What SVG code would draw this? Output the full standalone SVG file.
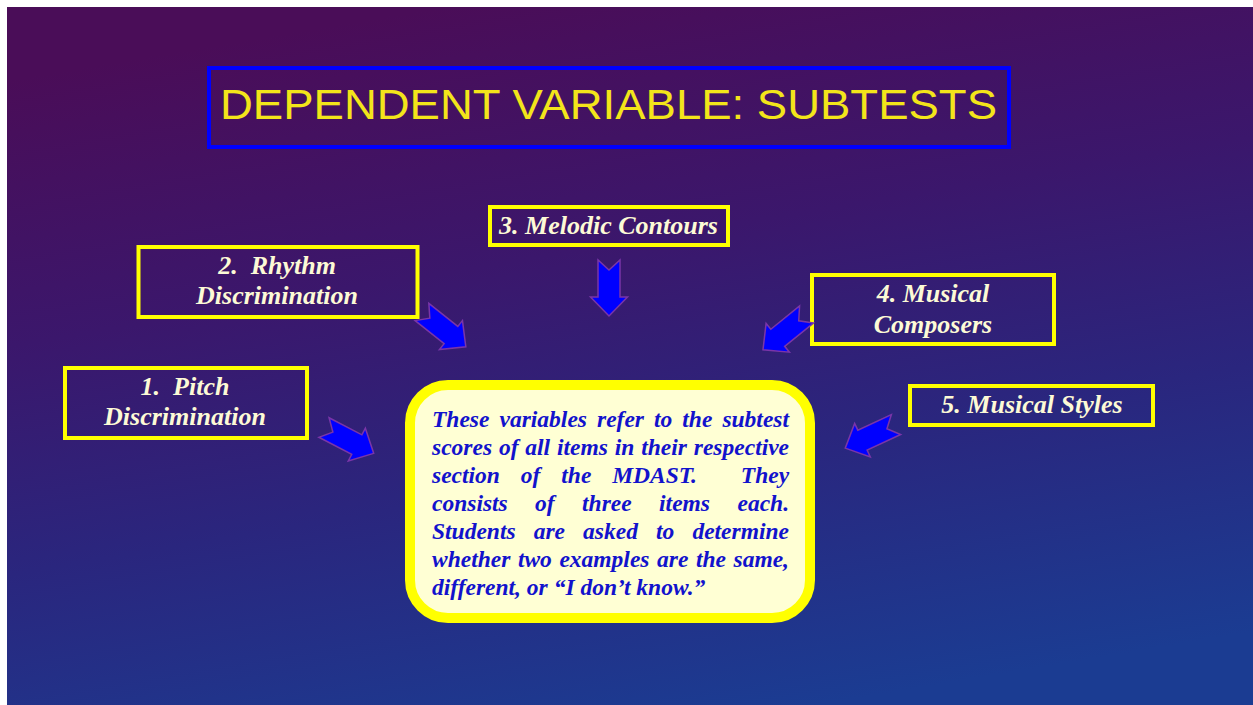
<svg xmlns="http://www.w3.org/2000/svg" xmlns:xlink="http://www.w3.org/1999/xlink" width="1253" height="705" viewBox="0 0 1253 705">
  <defs>
    <linearGradient id="bg" x1="0.35" y1="0" x2="0.65" y2="1">
      <stop offset="0" stop-color="#4A0D58"/>
      <stop offset="0.35" stop-color="#3B176C"/>
      <stop offset="0.65" stop-color="#2A267E"/>
      <stop offset="1" stop-color="#1B3C92"/>
    </linearGradient>
    <polygon id="arrow" points="0,-11 37,-11 37,-18.5 56,0 37,18.5 37,11 0,11 10,0"/>
    <style>
      .lbl { fill: none; stroke: #FFFF00; stroke-width: 4; }
      .lt { font-family: "Liberation Serif", "Times New Roman", serif; font-weight: bold; font-style: italic; font-size: 26px; fill: #FDFAD6; text-anchor: middle; }
      .ct { font-family: "Liberation Serif", "Times New Roman", serif; font-weight: bold; font-style: italic; font-size: 23.5px; fill: #1212CC; }
      .arr { fill: #0000FF; stroke: #7A35A8; stroke-width: 1.5; stroke-linejoin: miter; }
    </style>
  </defs>

  <rect x="0" y="0" width="1253" height="705" fill="#FFFFFF"/>
  <rect x="7" y="7" width="1246" height="698" fill="url(#bg)"/>

  <g id="title">
    <rect x="209" y="68" width="800" height="79" fill="none" stroke="#0000FF" stroke-width="4"/>
    <text x="220" y="119" font-family="Liberation Sans, Arial, sans-serif" font-size="43" fill="#F3E51A" textLength="777" lengthAdjust="spacingAndGlyphs">DEPENDENT VARIABLE: SUBTESTS</text>
  </g>

  <g id="node-pitch">
    <rect class="lbl" x="65" y="368" width="242" height="70"/>
    <text class="lt" x="185" y="395">1.&#160; Pitch</text>
    <text class="lt" x="185" y="425">Discrimination</text>
  </g>

  <g id="node-rhythm">
    <rect class="lbl" x="138.5" y="247" width="279" height="70"/>
    <text class="lt" x="277" y="274">2.&#160; Rhythm</text>
    <text class="lt" x="277" y="304">Discrimination</text>
  </g>

  <g id="node-melodic">
    <rect class="lbl" x="490" y="207" width="238" height="38"/>
    <text class="lt" x="608.5" y="234">3. Melodic Contours</text>
  </g>

  <g id="node-composers">
    <rect class="lbl" x="812" y="275" width="242" height="69"/>
    <text class="lt" x="933" y="302">4. Musical</text>
    <text class="lt" x="933" y="333">Composers</text>
  </g>

  <g id="node-styles">
    <rect class="lbl" x="910" y="386" width="243" height="39"/>
    <text class="lt" x="1032" y="413">5. Musical Styles</text>
  </g>

  <g id="center">
    <rect x="410" y="385" width="400" height="233" rx="38" ry="38" fill="#FFFFD4" stroke="#FFFF00" stroke-width="10"/>
    <text class="ct" y="427"><tspan x="432">These</tspan> <tspan x="499.5">variables</tspan> <tspan x="597">refer</tspan> <tspan x="654">to</tspan> <tspan x="682.3">the</tspan> <tspan x="722.4">subtest</tspan></text>
    <text class="ct" y="455"><tspan x="432">scores</tspan> <tspan x="498.9">of</tspan> <tspan x="525.3">all</tspan> <tspan x="557">items</tspan> <tspan x="614.8">in</tspan> <tspan x="641.2">their</tspan> <tspan x="693.8">respective</tspan></text>
    <text class="ct" y="483"><tspan x="432">section</tspan> <tspan x="520.8">of</tspan> <tspan x="561.3">the</tspan> <tspan x="612.2">MDAST.</tspan> <tspan x="740.8">They</tspan></text>
    <text class="ct" y="511"><tspan x="432">consists</tspan> <tspan x="535.1">of</tspan> <tspan x="582.1">three</tspan> <tspan x="659.1">items</tspan> <tspan x="737.5">each.</tspan></text>
    <text class="ct" y="539"><tspan x="432">Students</tspan> <tspan x="533.7">are</tspan> <tspan x="583.1">asked</tspan> <tspan x="656">to</tspan> <tspan x="692.4">determine</tspan></text>
    <text class="ct" y="567"><tspan x="432">whether</tspan> <tspan x="517.9">two</tspan> <tspan x="559.4">examples</tspan> <tspan x="657">are</tspan> <tspan x="695.9">the</tspan> <tspan x="733.5">same,</tspan></text>
    <text class="ct" x="432" y="595">different, or “I don’t know.”</text>
  </g>

  <g id="connectors">
    <use xlink:href="#arrow" class="arr" transform="translate(324,427.5) rotate(27.5)"/>
    <use xlink:href="#arrow" class="arr" transform="translate(422,312) rotate(38.5)"/>
    <use xlink:href="#arrow" class="arr" transform="translate(609,260) rotate(90)"/>
    <use xlink:href="#arrow" class="arr" transform="translate(806.5,314.5) rotate(141)"/>
    <use xlink:href="#arrow" class="arr" transform="translate(896,424.5) rotate(155)"/>
  </g>
</svg>
